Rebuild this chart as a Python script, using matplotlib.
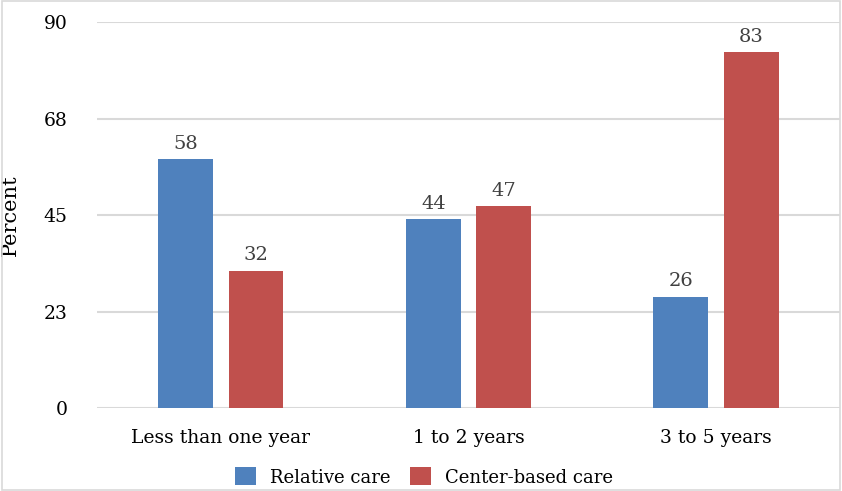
import matplotlib.pyplot as plt
import numpy as np

categories = ['Less than one year', '1 to 2 years', '3 to 5 years']
relative_care = [58, 44, 26]
center_care = [32, 47, 83]
ticks = [0, 22.5, 45, 67.5, 90]
tick_labels = ['0', '23', '45', '68', '90']

plt.rcParams['font.family'] = ['DejaVu Serif']

fig = plt.figure(figsize=(8.42, 4.91), dpi=100)
ax = fig.add_axes([0.1152, 0.169, 0.8824, 0.786])

x = np.arange(len(categories))
w = 0.222
off = 0.142
b1 = ax.bar(x - off, relative_care, w, color='#4f81bd', label='Relative care')
b2 = ax.bar(x + off, center_care, w, color='#c0504d', label='Center-based care')

for bars in (b1, b2):
    for r in bars:
        ax.text(r.get_x() + r.get_width() / 2, r.get_height() + 1.5, f'{r.get_height():.0f}',
                ha='center', va='bottom', fontsize=14, color='#404040')

ax.set_xlim(-0.5, 2.5)
ax.set_ylim(0, 90)
ax.set_yticks(ticks)
ax.set_yticklabels(tick_labels)
ax.set_xticks(x)
ax.set_xticklabels(categories)
ax.tick_params(axis='both', length=0, labelsize=13.5, colors='black')
ax.tick_params(axis='y', pad=21)
ax.tick_params(axis='x', pad=15)
ax.yaxis.grid(True, color='#d9d9d9', linewidth=1.5)
ax.set_axisbelow(True)
for s in ax.spines.values():
    s.set_visible(False)
ax.set_ylabel('Percent', fontsize=15)
ax.yaxis.set_label_coords(-0.104, 0.5)

fig.legend(loc='center', bbox_to_anchor=(0.5035, 0.0285), ncol=2, frameon=False,
           fontsize=13, handlelength=1.16, handleheight=1.16, columnspacing=1.1,
           handletextpad=0.78, borderpad=0)

fig.patches.append(plt.Rectangle((0.002, 0.002), 0.996, 0.996, transform=fig.transFigure,
                                 fill=False, edgecolor='#d9d9d9', linewidth=1.2))

plt.savefig('out.png', dpi=100)
